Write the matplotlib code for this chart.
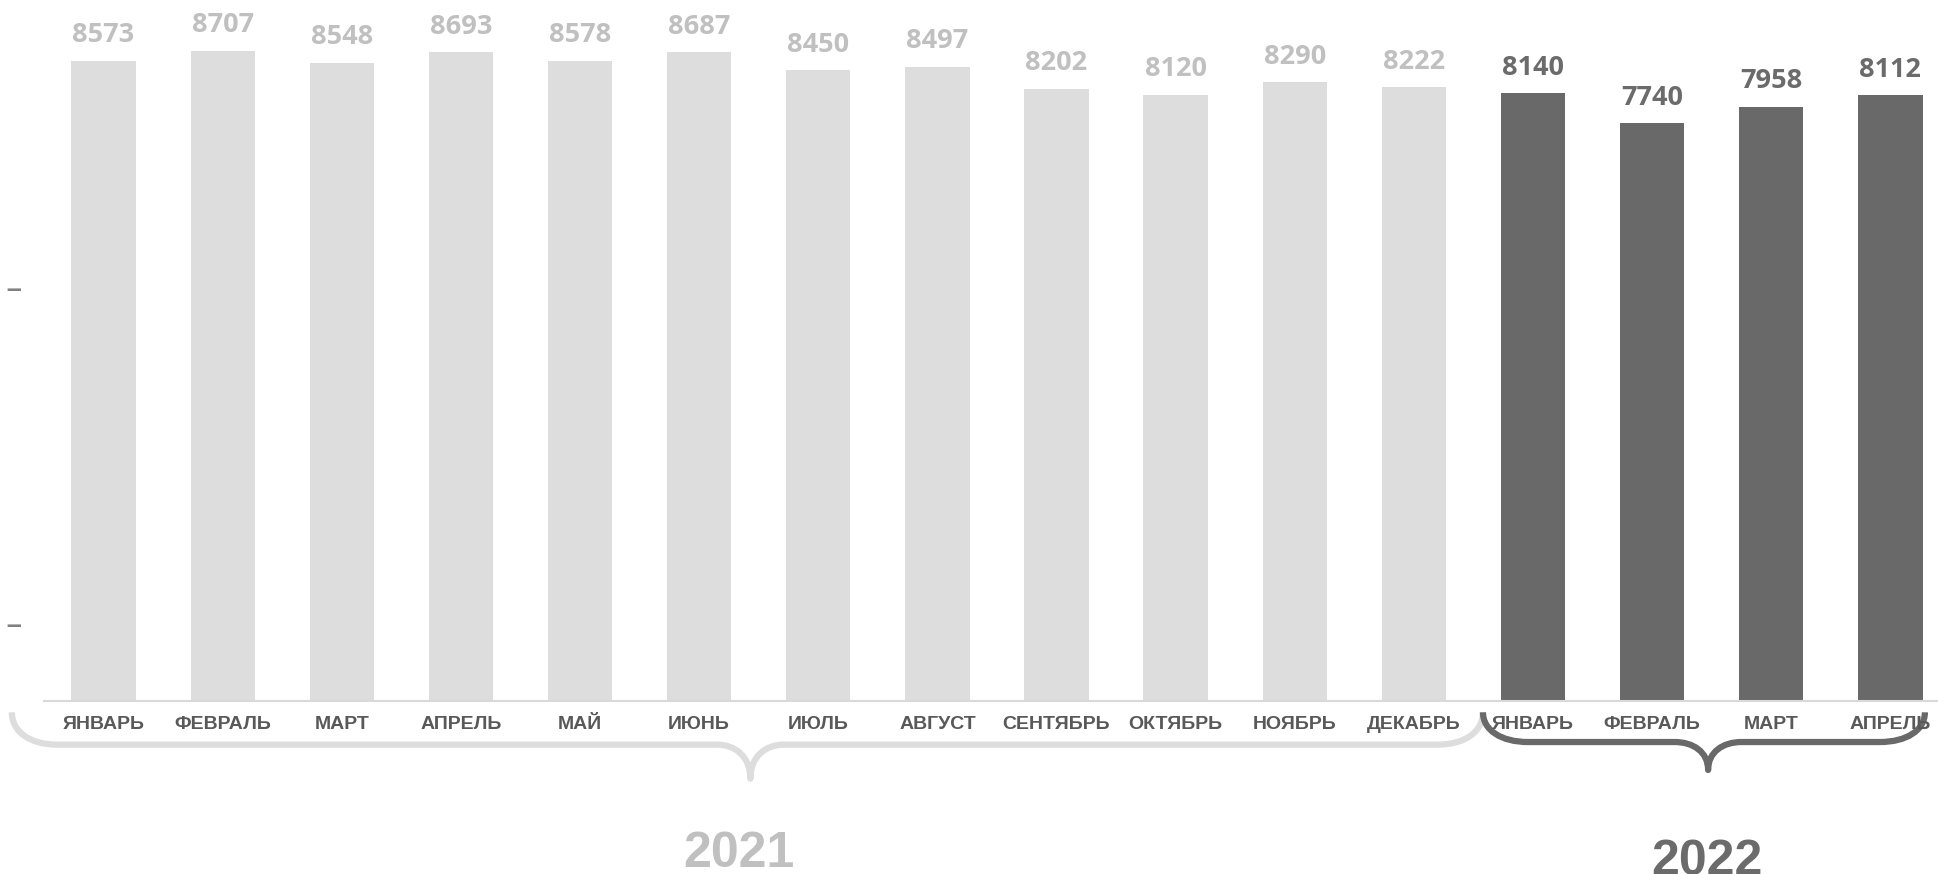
import matplotlib.pyplot as plt
from matplotlib.path import Path
from matplotlib.patches import PathPatch
import matplotlib.transforms as mtransforms

# data
months = ['ЯНВАРЬ', 'ФЕВРАЛЬ', 'МАРТ', 'АПРЕЛЬ', 'МАЙ', 'ИЮНЬ', 'ИЮЛЬ', 'АВГУСТ',
          'СЕНТЯБРЬ', 'ОКТЯБРЬ', 'НОЯБРЬ', 'ДЕКАБРЬ',
          'ЯНВАРЬ', 'ФЕВРАЛЬ', 'МАРТ', 'АПРЕЛЬ']
values_2021 = [8573, 8707, 8548, 8693, 8578, 8687, 8450, 8497, 8202, 8120, 8290, 8222]
values_2022 = [8140, 7740, 7958, 8112]
years = ['2021', '2022']
ytick_vals = [1060, 5560]

light = '#dddddd'
light_txt = '#c0c0c0'
dark = '#696969'
dark_txt = '#6b6b6b'


def brace(ax, fig, x0, x1, xc, ytop, ymid, ytip, rx, rc, color, lw):
    # curly brace: x in data units, y in figure fraction
    tr = mtransforms.blended_transform_factory(ax.transData, fig.transFigure)
    dy = ymid - ytop
    dt = ytip - ymid
    verts = [(x0, ytop),
             (x0, ytop + 0.6 * dy), (x0 + 0.4 * rx, ymid), (x0 + rx, ymid),
             (xc - rc, ymid),
             (xc - 0.45 * rc, ymid), (xc, ymid + 0.35 * dt), (xc, ytip),
             (xc, ymid + 0.35 * dt), (xc + 0.45 * rc, ymid), (xc + rc, ymid),
             (x1 - rx, ymid),
             (x1 - 0.4 * rx, ymid), (x1, ytop + 0.6 * dy), (x1, ytop)]
    codes = [Path.MOVETO,
             Path.CURVE4, Path.CURVE4, Path.CURVE4,
             Path.LINETO,
             Path.CURVE4, Path.CURVE4, Path.CURVE4,
             Path.CURVE4, Path.CURVE4, Path.CURVE4,
             Path.LINETO,
             Path.CURVE4, Path.CURVE4, Path.CURVE4]
    p = PathPatch(Path(verts, codes), transform=tr, facecolor='none',
                  edgecolor=color, lw=lw, capstyle='butt', joinstyle='round',
                  clip_on=False)
    ax.add_patch(p)


fig = plt.figure(figsize=(19.38, 8.74), dpi=100)
ax = fig.add_axes([44 / 1938, 173 / 874, 1 - 44 / 1938, 701 / 874])

n1 = len(values_2021)
x1 = list(range(n1))
x2 = list(range(n1, n1 + len(values_2022)))
ax.bar(x1, values_2021, width=0.54, color=light)
ax.bar(x2, values_2022, width=0.54, color=dark)

for x, v in zip(x1, values_2021):
    ax.annotate(str(v), (x, v), xytext=(0, 9), textcoords='offset points',
                ha='center', va='bottom', fontsize=19.5, fontweight='bold',
                family='Open Sans', color=light_txt)
for x, v in zip(x2, values_2022):
    ax.annotate(str(v), (x, v), xytext=(0, 9), textcoords='offset points',
                ha='center', va='bottom', fontsize=19.5, fontweight='bold',
                family='Open Sans', color=dark_txt)

ax.set_xlim(-0.5, 15.4)
ax.set_ylim(0, 9390)

ax.set_xticks(x1 + x2)
ax.set_xticklabels(months, fontsize=14, fontweight='bold',
                   family='Liberation Sans', color='#595959')
ax.tick_params(axis='x', length=0, pad=11)
ax.set_yticks(ytick_vals)
ax.set_yticklabels(['–'] * len(ytick_vals), fontsize=24, color='#808080')
ax.tick_params(axis='y', length=0, pad=16)

for s in ['top', 'right', 'left']:
    ax.spines[s].set_visible(False)
ax.spines['bottom'].set_color('#d9d9d9')
ax.spines['bottom'].set_linewidth(1.5)

# braces and year labels
brace(ax, fig, -0.77, n1 - 0.42, 5.43, 0.185, 0.148, 0.109, 0.38, 0.28, light, 4.5)
brace(ax, fig, n1 - 0.42, 15.29, 13.47, 0.185, 0.151, 0.119, 0.38, 0.28, dark, 4.5)

trx = mtransforms.blended_transform_factory(ax.transData, fig.transFigure)
ax.text(5.33, 0.008, years[0], transform=trx, ha='center', va='baseline',
        fontsize=36, fontweight='bold', family='Liberation Sans', color=light_txt)
ax.text(13.46, -0.001, years[1], transform=trx, ha='center', va='baseline',
        fontsize=36, fontweight='bold', family='Liberation Sans', color=dark_txt)

plt.savefig('out.png', dpi=100)
